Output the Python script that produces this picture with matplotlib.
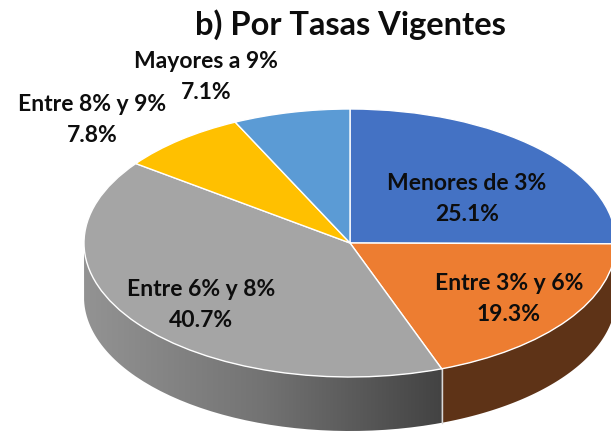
import numpy as np
import matplotlib
matplotlib.use("Agg")
import matplotlib.pyplot as plt
from matplotlib.colors import LinearSegmentedColormap
from matplotlib.patches import PathPatch
from matplotlib.path import Path

plt.rcParams['font.family'] = ['Lato', 'DejaVu Sans']

categories = ["Menores de 3%", "Entre 3% y 6%", "Entre 6% y 8%", "Entre 8% y 9%", "Mayores a 9%"]
values = [25.1, 19.3, 40.7, 7.8, 7.1]
colors = ["#4472C4", "#ED7D31", "#A5A5A5", "#FFC000", "#5B9BD5"]
title = "b) Por Tasas Vigentes"

# pie centre and radii, in pixels of the picture
CX, CY, RX, RY, DEPTH = 350, 243, 266, 134, 54
W, H = 611, 432
# label centres, in pixels
label_pos = [(467, 199), (509, 299), (201, 305), (92, 120), (206, 77)]


def to_data(px, py):
    return (px - CX) / RX, (CY - py) / RY


def wall_path(t0, t1):
    # t is the clockwise angle from the top, in degrees
    t = np.radians(np.linspace(t0, t1, 80))
    x = np.sin(t)
    y = np.cos(t)
    d = DEPTH / RY
    return Path(np.column_stack([np.r_[x, x[::-1]], np.r_[y, y[::-1] - d]]))


fig = plt.figure(figsize=(W / 100, H / 100), dpi=100)
ax = fig.add_axes([0, 0, 1, 1])

wedges, _ = ax.pie(values, colors=colors, startangle=90, counterclock=False, radius=1,
                   wedgeprops={"edgecolor": "white", "linewidth": 1.0, "zorder": 3})
ax.set_aspect("auto")
x0, y1 = to_data(0, 0)
x1, y0 = to_data(W, H)
ax.set_xlim(x0, x1)
ax.set_ylim(y0, y1)
ax.set_frame_on(False)

ends = np.cumsum(values) / sum(values) * 360
split = ends[1]
left_end = 270

# orange side
ax.add_patch(PathPatch(wall_path(90, split), facecolor="#5E3317", edgecolor="none", zorder=1))

# grey side with its gradient
grey_cmap = LinearSegmentedColormap.from_list("wall", ["#939393", "#737373", "#434343"])
grad = ax.imshow(np.linspace(0, 1, 256).reshape(1, -1), cmap=grey_cmap, aspect="auto",
                 extent=(-1, np.sin(np.radians(split)), y0, 0.1), zorder=1)
grey_wall = PathPatch(wall_path(split, left_end), facecolor="none", edgecolor="none",
                      transform=ax.transData)
ax.add_patch(grey_wall)
grad.set_clip_path(grey_wall)
ax.set_xlim(x0, x1)
ax.set_ylim(y0, y1)

# divider between both sides
sx = np.sin(np.radians(split))
sy = np.cos(np.radians(split))
ax.plot([sx, sx], [sy, sy - DEPTH / RY], color="#D9D9D9", lw=1.0, zorder=2)

for name, val, (px, py) in zip(categories, values, label_pos):
    tx, ty = to_data(px, py)
    ax.text(tx, ty, f"{name}\n{val:.1f}%", ha="center", va="center", fontsize=16.5,
            fontweight="bold", color="#0D0D0D", linespacing=1.55, zorder=5)

tx, ty = to_data(350, 25)
ax.text(tx, ty, title, ha="center", va="center", fontsize=23.5, fontweight="bold", color="#0D0D0D")

fig.savefig("out.png", dpi=100)
